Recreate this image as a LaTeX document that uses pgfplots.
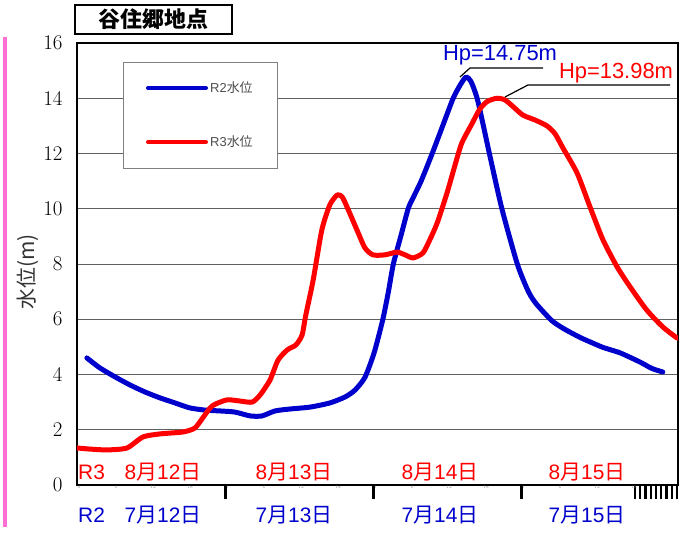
\documentclass[border=0pt]{standalone}
\usepackage{pgfplots}
\pgfplotsset{compat=1.18}
\usepackage{fontspec}
\newfontfamily\jp{Noto Sans CJK JP}
\newfontfamily\lib{Liberation Sans}
\definecolor{myblue}{RGB}{0,0,204}
\definecolor{myred}{RGB}{255,0,0}
\definecolor{mypink}{RGB}{255,110,210}
\newcommand{\dlab}[2]{{\lib #1}{\jp 月}{\lib #2}{\jp 日}}
\begin{document}
\begin{tikzpicture}[x=1bp,y=1bp]
\useasboundingbox (-77,-49) rectangle (608,485);
\fill[mypink] (-74,-42) rectangle (-69.5,448);
\begin{axis}[at={(0,0)}, anchor=south west, scale only axis,
  width=601bp, height=442bp,
  xmin=0, xmax=97.46, ymin=0, ymax=16,
  /pgf/number format/assume math mode=true,
  axis line style={line width=2.5bp, black},
  xtick pos=bottom, ytick pos=left,
  ytick={0,2,...,16}, ymajorgrids,
  grid style={draw=gray!75!black, line width=0.8bp},
  ytick style={draw=none},
  yticklabel style={font=\fontsize{21}{21}\selectfont, text=black, xshift=-11bp},
  xtick={0,6,...,90},
  xticklabels={0,6,12,18,0,6,12,18,0,6,12,18,0,6,12,18},
  xticklabel style={font=\fontsize{4}{4}\selectfont, text=gray, xshift=2bp, inner sep=0.5bp},
  tick align=outside,
  major tick length=0bp,
  xtick style={line width=3bp, black},
  extra x ticks={24,48,72},
  extra x tick labels={},
  extra x tick style={major tick length=14bp},
  minor xtick={90.5,91.35,92.2,93.05,93.9,94.75,95.6,96.45,97.3},
  minor tick length=14bp,
  minor x tick style={line width=2.2bp, black},
]
\addplot[myblue, line width=5bp, line join=round, line cap=round, smooth, tension=0.4] coordinates {
(1.6,4.6)(3.7,4.24)(6.2,3.91)(8.6,3.62)(11.0,3.37)(13.5,3.15)(15.9,2.97)(18.3,2.79)
(20.8,2.71)(23.2,2.68)(25.6,2.64)(28.1,2.5)(30.0,2.5)(32.1,2.68)(34.5,2.75)(37.8,2.82)
(41.0,2.97)(43.5,3.19)(45.1,3.44)(46.7,3.9)(48.2,4.8)(49.6,6.0)(50.5,7.0)(51.3,8.0)
(52.5,9.0)(53.7,10.0)(54.4,10.35)(55.8,11.0)(57.6,12.0)(59.3,13.0)(61.0,14.0)(62.2,14.5)
(63.1,14.77)(63.9,14.6)(65.0,13.9)(67.0,11.87)(68.9,10.0)(71.4,8.0)(73.2,7.0)(74.5,6.55)
(77.0,5.95)(79.0,5.65)(81.5,5.35)(83.5,5.15)(85.3,4.98)(88.1,4.78)(91.3,4.45)(93.2,4.22)(95.0,4.09)
};
\addplot[myred, line width=5bp, line join=round, line cap=round, smooth, tension=0.4] coordinates {
(0,1.34)(2.1,1.30)(4.9,1.27)(8.1,1.34)(10.7,1.74)(13.5,1.85)(17.2,1.92)(19.1,2.06)
(20.4,2.43)(21.9,2.86)(24.3,3.08)(26.4,3.04)(28.4,3.0)(29.7,3.26)(31.3,3.8)(32.6,4.52)
(34.1,4.89)(35.5,5.07)(36.5,5.43)(37.1,6.15)(38.3,7.42)(39.7,9.23)(41.0,10.14)(42.2,10.5)
(43.0,10.43)(43.8,10.06)(45.4,9.23)(46.7,8.58)(48.0,8.33)(49.9,8.33)(51.9,8.43)(53.2,8.33)
(54.5,8.22)(56.1,8.4)(57.2,8.87)(58.4,9.48)(60.0,10.57)(61.3,11.58)(62.4,12.38)(64.1,13.1)
(65.3,13.6)(66.5,13.88)(68.1,14.0)(69.4,13.94)(70.7,13.7)(72.3,13.39)(74.3,13.21)(76.2,13.0)
(77.5,12.72)(78.8,12.2)(81.1,11.29)(83.2,10.06)(85.3,8.87)(87.6,7.89)(89.7,7.17)(92.4,6.33)
(95.0,5.72)(97.3,5.32)
};
\end{axis}
% title box
\draw[line width=1.5bp, fill=white] (-2,451) rectangle (155,480);
\node[font=\jp\bfseries\fontsize{22}{22}\selectfont] at (76.5,465.5) {谷住郷地点};
% legend
\draw[gray, line width=0.8bp, fill=white] (46,317) rectangle (200,423);
\draw[myblue, line width=4bp, line cap=round] (71,397)--(129,397);
\draw[myred, line width=4bp, line cap=round] (71,343)--(129,343);
\node[anchor=west, text=black!70, font=\fontsize{13}{13}\selectfont, inner sep=0pt] at (133,397) {{\lib R2}{\jp 水位}};
\node[anchor=west, text=black!70, font=\fontsize{13}{13}\selectfont, inner sep=0pt] at (133,343) {{\lib R3}{\jp 水位}};
% y label
\node[rotate=90, font=\jp\fontsize{21}{21}\selectfont, text=black!80] at (-49,213) {水位(m)};
% peak annotations
\node[font=\lib\fontsize{22}{22}\selectfont, text=myblue] at (423,430) {Hp=14.75m};
\draw[line width=1.2bp] (383,408)--(393,417)--(466,417);
\node[font=\lib\fontsize{22}{22}\selectfont, text=myred] at (539,412) {Hp=13.98m};
\draw[line width=1.2bp] (428,388)--(451,400)--(593,400);
% date labels
\begin{scope}[every node/.style={font=\fontsize{21}{21}\selectfont, inner sep=0pt}]
\node[text=myred, anchor=west] at (1,13) {\lib R3};
\node[text=myred] at (86,13) {\dlab{8}{12}};
\node[text=myred] at (217,13) {\dlab{8}{13}};
\node[text=myred] at (363,13) {\dlab{8}{14}};
\node[text=myred] at (510,13) {\dlab{8}{15}};
\node[text=myblue, anchor=west] at (1,-30) {\lib R2};
\node[text=myblue] at (86,-30) {\dlab{7}{12}};
\node[text=myblue] at (217,-30) {\dlab{7}{13}};
\node[text=myblue] at (363,-30) {\dlab{7}{14}};
\node[text=myblue] at (510,-30) {\dlab{7}{15}};
\end{scope}
\end{tikzpicture}
\end{document}
